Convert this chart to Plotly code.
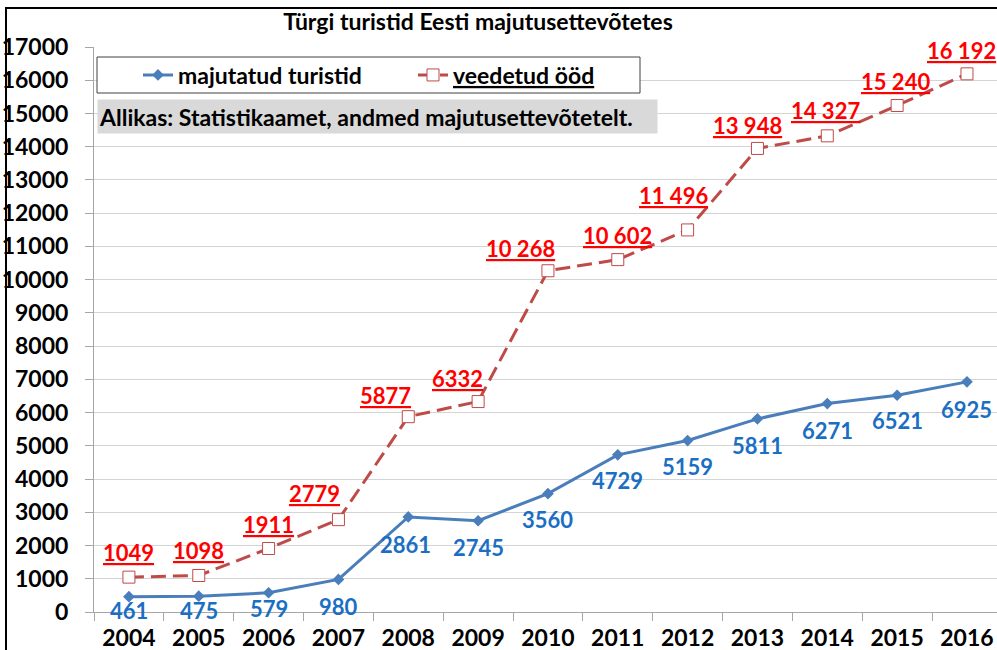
import plotly.graph_objects as go

years = ["2004", "2005", "2006", "2007", "2008", "2009", "2010",
         "2011", "2012", "2013", "2014", "2015", "2016"]
tourists = [461, 475, 579, 980, 2861, 2745, 3560, 4729, 5159, 5811, 6271, 6521, 6925]
nights = [1049, 1098, 1911, 2779, 5877, 6332, 10268, 10602, 11496, 13948, 14327, 15240, 16192]

title_text = "Türgi turistid Eesti majutusettevõtetes"
source_text = "Allikas: Statistikaamet, andmed majutusettevõtetelt."
name_tourists = "majutatud turistid"
name_nights = "veedetud ööd"

# label offsets (px) - layout only
red_dx = [0, 0, 0, -24, -23, -21, -27, 0, -14, -10, -2, -2, -5]
red_dy = [25, 25, 24, 26, 21, 23, 22, 24, 34, 23, 25, 24, 23]
blue_dx = [0, 0, 0, 0, -3, 0, 0, 0, 0, 0, 0, 0, 0]
blue_dy = [-14, -14, -16, -27, -28, -27, -26, -26, -26, -27, -27, -25, -28]

FONT = "Lato"
BLUE_LINE = "#4A7EBB"
RED_LINE = "#BE4B48"
BLUE_TXT = "#1A6FC4"
RED_TXT = "#FF0000"


def fmt(v):
    s = str(v)
    if v >= 10000:
        s = f"{v:,}".replace(",", " ")
    return s


fig = go.Figure()
fig.add_trace(go.Scatter(
    x=years, y=tourists, name=name_tourists, mode="lines+markers",
    line=dict(color=BLUE_LINE, width=3),
    marker=dict(symbol="diamond", size=9, color=BLUE_LINE),
))
fig.add_trace(go.Scatter(
    x=years, y=nights, name="<u>" + name_nights + "</u>", mode="lines+markers",
    line=dict(color=RED_LINE, width=3, dash="15px,7px"),
    marker=dict(symbol="square", size=12, color="white",
                line=dict(color=RED_LINE, width=1)),
))

annotations = []
for i, v in enumerate(tourists):
    annotations.append(dict(
        x=i, y=v, xref="x", yref="y", text=fmt(v), showarrow=False,
        xshift=blue_dx[i], yshift=blue_dy[i], yanchor="middle", xanchor="center",
        font=dict(family=FONT, size=22, color=BLUE_TXT, weight="bold")))
for i, v in enumerate(nights):
    annotations.append(dict(
        x=i, y=v, xref="x", yref="y", text="<u>" + fmt(v) + "</u>", showarrow=False,
        xshift=red_dx[i], yshift=red_dy[i], yanchor="middle", xanchor="center",
        font=dict(family=FONT, size=22, color=RED_TXT, weight="bold")))

# source box
annotations.append(dict(
    x=(97 - 94) / 903, y=(612 - 117) / 565, xref="paper", yref="paper",
    xanchor="left", yanchor="middle", text=source_text, showarrow=False,
    width=557, height=31, align="left", bgcolor="#D9D9D9", borderpad=1,
    font=dict(family=FONT, size=23, color="black", weight="bold")))

fig.update_layout(annotations=annotations)

shapes = [
    # outer chart border
    dict(type="rect", xref="paper", yref="paper",
         x0=(6 - 94) / 903, x1=1.2, y0=-0.3, y1=(612 - 8) / 565,
         line=dict(color="black", width=2), fillcolor="rgba(0,0,0,0)", layer="above"),
    # legend box
    dict(type="rect", xref="paper", yref="paper",
         x0=(97 - 94) / 903, x1=(640 - 94) / 903,
         y0=(612 - 93) / 565, y1=(612 - 57) / 565,
         line=dict(color="#404040", width=1), fillcolor="white", layer="above"),
]
fig.update_layout(shapes=shapes)

fig.update_layout(
    width=997, height=650,
    margin=dict(l=94, r=0, t=47, b=38),
    paper_bgcolor="white", plot_bgcolor="white",
    title=dict(text=title_text, x=478 / 997, xanchor="center", y=1 - 22 / 650,
               yanchor="middle",
               font=dict(family=FONT, size=23, color="black", weight="bold")),
    showlegend=True,
    legend=dict(orientation="h", x=(138 - 94) / 903, xanchor="left",
                y=(612 - 75) / 565, yanchor="middle",
                bgcolor="rgba(0,0,0,0)", borderwidth=0,
                entrywidth=230, entrywidthmode="pixels",
                font=dict(family=FONT, size=23, color="black", weight="bold")),
    xaxis=dict(type="category", range=[-0.5, 12.43], showgrid=False,
               showline=True, linecolor="#A6A6A6", linewidth=1,
               ticks="outside", tickson="boundaries", ticklen=8, tickcolor="#A6A6A6",
               tickfont=dict(family=FONT, size=23, color="black", weight="bold"),
               ticklabelstandoff=5),
    yaxis=dict(range=[0, 17000], dtick=1000, showgrid=True, gridcolor="#D4D4D4",
               gridwidth=1, showline=True, linecolor="#A6A6A6", linewidth=1,
               ticks="outside", ticklen=8, tickcolor="#A6A6A6", zeroline=False,
               tickformat="d",
               tickfont=dict(family=FONT, size=23, color="black", weight="bold"),
               ticklabelstandoff=12),
)

fig.write_html("out.html", config={"displayModeBar": False},
               post_script="document.body.style.margin='0';document.body.style.overflow='hidden';")
